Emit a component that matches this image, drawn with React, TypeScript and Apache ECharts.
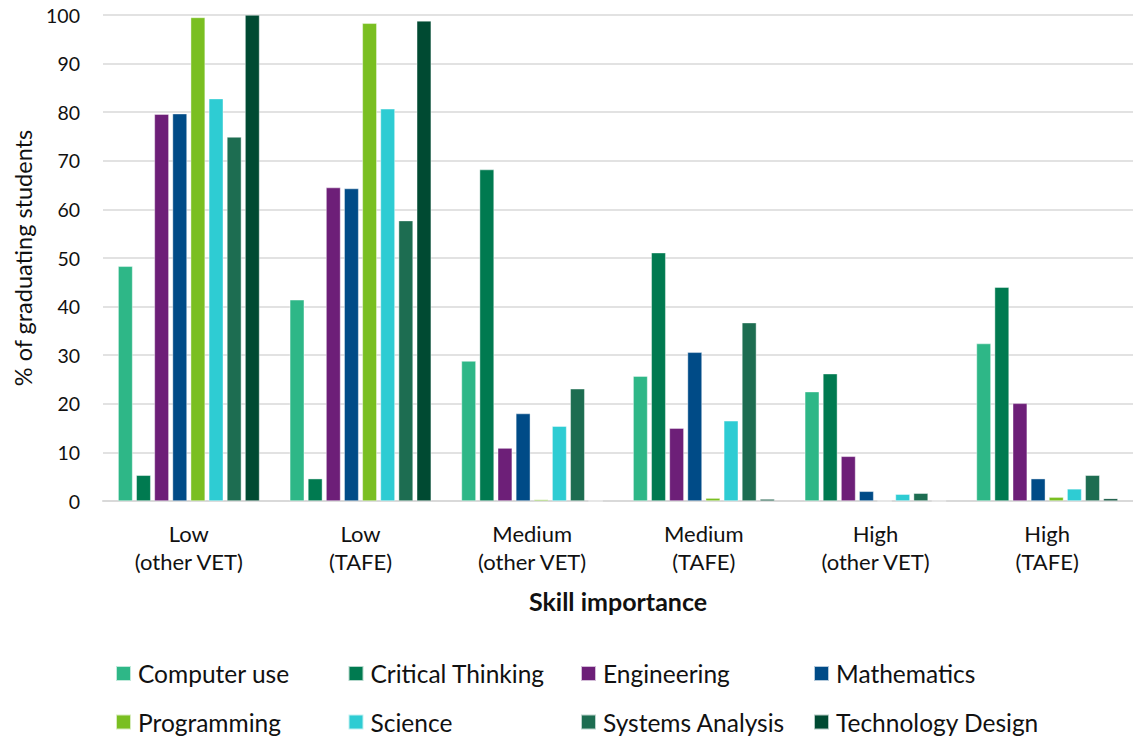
import React, { useEffect, useRef } from "react";
import * as echarts from "echarts";

const categories = [
  "Low\n(other VET)",
  "Low\n(TAFE)",
  "Medium\n(other VET)",
  "Medium\n(TAFE)",
  "High\n(other VET)",
  "High\n(TAFE)",
];

const seriesNames = [
  "Computer use",
  "Critical Thinking",
  "Engineering",
  "Mathematics",
  "Programming",
  "Science",
  "Systems Analysis",
  "Technology Design",
];

const computerUse = [48.3, 41.4, 28.8, 25.7, 22.5, 32.4];
const criticalThinking = [5.3, 4.6, 68.2, 51.1, 26.2, 44.0];
const engineering = [79.6, 64.5, 10.9, 15.0, 9.2, 20.1];
const mathematics = [79.7, 64.3, 18.0, 30.6, 2.0, 4.6];
const programming = [99.5, 98.3, 0.3, 0.6, 0, 0.8];
const science = [82.8, 80.7, 15.4, 16.5, 1.4, 2.5];
const systemsAnalysis = [74.9, 57.7, 23.1, 36.7, 1.6, 5.3];
const technologyDesign = [100, 98.8, 0, 0.4, 0, 0.5];

const seriesValues = [
  computerUse,
  criticalThinking,
  engineering,
  mathematics,
  programming,
  science,
  systemsAnalysis,
  technologyDesign,
];

const colors = [
  "#2EB787",
  "#007A50",
  "#6D1F78",
  "#004B87",
  "#7ABF21",
  "#2ECCD3",
  "#1D6D51",
  "#004A32",
];

const FONT = "Lato, 'Open Sans', sans-serif";
const legendCols = [115, 347.5, 580, 813];
const legendRows = [658.5, 707];

export default function App() {
  const ref = useRef<HTMLDivElement>(null);

  useEffect(() => {
    if (!ref.current) return;
    const chart = echarts.init(ref.current, undefined, { renderer: "svg" });
    const legends = seriesNames.map((name, i) => ({
      left: legendCols[i % 4],
      top: legendRows[Math.floor(i / 4)],
      padding: 0,
      itemWidth: 15,
      itemHeight: 15,
      icon: "rect",
      data: [name],
      textStyle: {
        fontFamily: FONT,
        fontSize: 24.5,
        lineHeight: 30,
        color: "#111",
        padding: [0, 0, 0, 2],
      },
    }));
    chart.setOption({
      animation: false,
      color: colors,
      textStyle: { fontFamily: FONT },
      grid: { left: 103, width: 1041, top: 15, bottom: 239, containLabel: false },
      legend: legends,
      xAxis: {
        type: "category",
        data: categories,
        name: "Skill importance",
        nameLocation: "middle",
        nameGap: 87,
        nameTextStyle: {
          fontFamily: FONT,
          fontSize: 25,
          fontWeight: "bold",
          color: "#111",
        },
        axisTick: { show: false },
        axisLine: { lineStyle: { color: "#D9D9D9", width: 2 } },
        axisLabel: {
          fontFamily: FONT,
          fontSize: 22,
          lineHeight: 28,
          color: "#111",
          margin: 18,
        },
      },
      yAxis: {
        type: "value",
        min: 0,
        max: 100,
        interval: 10,
        name: "% of graduating students",
        nameLocation: "middle",
        nameGap: 67,
        nameRotate: 90,
        nameTextStyle: { fontFamily: FONT, fontSize: 23.5, color: "#111" },
        axisLine: { show: false },
        axisTick: { show: false },
        splitLine: { lineStyle: { color: "#D9D9D9", width: 1.5 } },
        axisLabel: {
          fontFamily: FONT,
          fontSize: 19.5,
          color: "#111",
          margin: 23,
        },
      },
      series: seriesNames.map((name, i) => ({
        name,
        type: "bar",
        data: seriesValues[i],
        barGap: "25%",
        barCategoryGap: "17.6%",
        itemStyle: {
          color: colors[i],
          borderColor: "rgba(255,255,255,0.7)",
          borderWidth: 0.6,
        },
      })),
    });
    return () => chart.dispose();
  }, []);

  return (
    <div
      ref={ref}
      style={{ position: "absolute", left: 0, top: 0, width: 1133, height: 740 }}
    />
  );
}
